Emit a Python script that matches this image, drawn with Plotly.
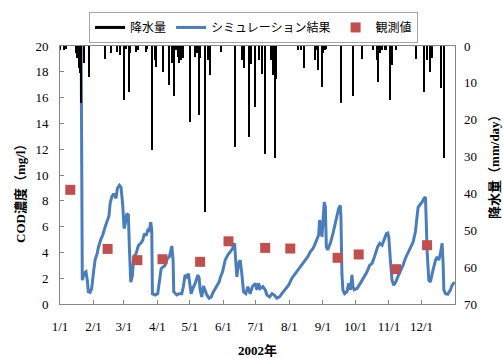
import pandas as pd
import plotly.graph_objects as go

START = pd.Timestamp("2002-01-01")

# ---- data (day offsets from 2002-01-01) ----
month_ticks = ["2002-01-01", "2002-02-01", "2002-03-01", "2002-04-01", "2002-05-01", "2002-06-01",
               "2002-07-01", "2002-08-01", "2002-09-01", "2002-10-01", "2002-11-01", "2002-12-01"]
month_labels = ["1/1", "2/1", "3/1", "4/1", "5/1", "6/1", "7/1", "8/1", "9/1", "10/1", "11/1", "12/1"]

sim_day = [19.5, 20.6, 22.5, 24, 25.3, 26.2, 27.8, 29.3, 30.8, 32.4, 34.3, 35.5, 37.9, 39.5, 41.6, 44.1,
           45.3, 46.3, 47.8, 49.6, 50.9, 51.8, 53, 54.9, 56.4, 58, 59.2, 60.8, 61.7, 63.2, 64.1, 65.4,
           66.9, 68.1, 70.3, 72.5, 74.6, 76.5, 78, 79.6, 81, 82.3, 83.9, 84.8, 85.4, 87.9, 90.3, 92.5,
           93.5, 95.6, 97.1, 99.3, 101.1, 102.4, 103.3, 104.5, 105.1, 107.9, 110, 112.5, 114, 115.6,
           117.1, 118.7, 119.9, 121.2, 122.7, 124.9, 127.4, 128.6, 129.5, 131, 132.6, 134.2, 135.7,
           137.8, 139.7, 141.8, 144.9, 147, 148.3, 150.2, 152.6, 155, 157.3, 159.4, 161.3, 162.5,
           163.4, 165, 166.5, 168, 169.6, 171.7, 173.6, 175.7, 177.9, 180.4, 181.9, 183.5, 185,
           187.5, 189.6, 191.2, 193.7, 195.9, 198, 200.4, 202.9, 205, 208.1, 211.2, 214.3, 217.4,
           220.5, 223.5, 226.6, 228.8, 231.3, 233.8, 235.9, 237.4, 239, 239.9, 241.2, 242.1, 243,
           244.2, 245.2, 246.1, 247.3, 249.8, 252.2, 254.4, 256, 257.5, 259, 259.6, 260.5, 261.4,
           263, 265.2, 266.7, 268.3, 269.8, 270.7, 271.9, 274.4, 277.5, 280.6, 283.7, 286.2, 288.4,
           290.5, 292.4, 293.6, 295.5, 297.6, 299.8, 301.6, 302.9, 303.8, 305.3, 306.8, 308.4,
           310.2, 312.1, 314.5, 317, 319.2, 321.3, 323.8, 326.3, 328.4, 329.9, 330.9, 333.1, 334.6,
           336.1, 337.7, 338.3, 339.2, 340.8, 342.3, 343.9, 345.4, 347, 348.5, 350, 351.5, 353.1,
           354, 354.7, 356.2, 358.3, 360.8, 362.3, 364.5]
sim_cod = [21, 1.85, 2.4, 2.5, 1.8, 0.95, 0.9, 1.2, 2.35, 3.4, 3.9, 4.4, 5.05, 5.35, 5.95, 6.5,
           6.85, 7.8, 8.3, 8.55, 8.4, 8.2, 8.95, 9.2, 9.05, 7.65, 5.85, 6.4, 7.0, 6.9, 4.4, 1.7,
           2.2, 3.65, 3.9, 4.55, 4.7, 4.95, 5.45, 5.3, 5.7, 5.6, 6.35, 5.7, 0.8, 0.7, 0.8, 2.25,
           2.75, 2.9, 3.0, 3.55, 3.65, 4.15, 4.5, 3.4, 0.95, 0.7, 0.8, 0.8, 1.35, 2.25,
           2.1, 2.35, 1.6, 0.8, 1.2, 1.6, 2.25, 2.0, 1.1, 0.55, 1.4, 0.95, 0.7,
           0.45, 0.55, 0.95, 1.45, 1.7, 2.1, 2.5, 3.4, 3.8, 4.05, 4.3, 4.7, 3.4,
           2.1, 3.15, 3.4, 2.35, 0.95, 0.8, 1.35, 0.8, 1.35, 1.6, 1.1, 1.6, 1.2,
           1.35, 1.1, 0.7, 0.55, 0.8, 0.7, 0.45, 0.55, 0.8, 1.1, 1.45, 2.0, 2.35,
           2.75, 3.0, 3.4, 3.65, 4.05, 4.3, 4.7, 5.05, 5.35, 6.5, 5.95, 5.2, 6.75,
           7.9, 7.5, 4.45, 4.2, 4.7, 5.45, 6.25, 6.85, 7.4, 7.65, 6.75, 2.35, 1.1,
           0.8, 0.95, 1.6, 1.1, 2.25, 1.35, 1.1, 1.2, 1.6, 2.0, 2.5, 3.0, 3.15,
           3.65, 4.15, 4.45, 4.7, 4.55, 5.05, 5.45, 5.5, 5.2, 3.4, 1.85, 1.45,
           1.7, 2.1, 2.5, 3.0, 3.55, 3.9, 4.3, 4.8, 5.6, 6.75, 7.5, 7.75, 7.9,
           8.15, 8.3, 6.75, 4.15, 1.85, 1.7, 2.35, 2.9, 3.4, 3.65, 3.4, 3.9, 4.7,
           3.15, 1.1, 0.8, 0.75, 1.1, 1.45, 1.7]

obs_day = [9.5, 44, 71.5, 94.7, 129.5, 155.7, 189.6, 212.8, 256.5, 276, 310.5, 339.2]
obs_cod = [8.85, 4.27, 3.4, 3.47, 3.27, 4.86, 4.35, 4.3, 3.58, 3.84, 2.7, 4.56]

rain_day = [0, 4, 6, 15, 16, 18, 19, 20, 22, 27, 42, 47, 53, 56, 59, 61, 64, 65, 70, 72, 80, 81,
            85, 88, 89, 95, 101, 104, 106, 107, 109, 110, 112, 114, 120, 125, 127, 129, 130, 134,
            137, 139, 149, 162, 168, 170, 175, 177, 180, 184, 187, 190, 195, 197, 199, 200, 220,
            223, 226, 236, 237, 239, 242, 243, 245, 246, 260, 271, 279, 289, 293, 294, 296, 298,
            301, 305, 307, 311, 329, 337, 339, 342, 344, 352, 355]
rain_mm = [1.0, 1.0, 0.8, 2.0, 3.3, 6.0, 7.4, 15.5, 4.5, 8.3, 3.5, 1.9, 1.5, 2.5, 14.6, 0.8, 12.6,
           2.0, 1.5, 1.0, 1.5, 0.8, 28.2, 3.8, 5.6, 7.0, 10.6, 4.5, 13.7, 1.0, 2.9, 4.7, 3.8, 3.3,
           20.5, 2.9, 2.0, 18.7, 3.3, 45.0, 3.8, 7.9, 1.5, 27.3, 3.8, 6.0, 24.6, 5.0, 16.5, 3.8,
           7.6, 29.4, 3.8, 8.0, 30.5, 9.0, 1.0, 1.0, 6.0, 3.8, 1.0, 6.5, 11.0, 2.0, 1.0, 0.8, 15.5,
           13.7, 3.5, 1.0, 3.8, 9.7, 2.0, 1.0, 1.0, 14.6, 5.1, 1.0, 3.5, 12.6, 3.8, 7.0, 3.3, 11.5,
           30.3]


def to_dates(days):
    return [START + pd.Timedelta(days=float(d)) for d in days]


SERIF = "Liberation Serif, Times New Roman, Noto Sans CJK JP, serif"
LEGEND_FONT = "Noto Sans CJK JP, sans-serif"
AXIS_GRAY = "#868686"

fig = go.Figure()

fig.add_trace(go.Scatter(
    x=to_dates(sim_day), y=sim_cod, mode="lines", name="シミュレーション結果",
    line=dict(color="#4A7EBB", width=3), legendrank=2, cliponaxis=True))

fig.add_trace(go.Scatter(
    x=to_dates(obs_day), y=obs_cod, mode="markers", name="観測値",
    marker=dict(symbol="square", size=10, color="#C0504D"), legendrank=3))

fig.add_trace(go.Bar(
    x=to_dates(rain_day), y=rain_mm, yaxis="y2", name="降水量", showlegend=False,
    marker=dict(color="#000000", line=dict(width=0)), width=86400000 * 1.4))

# legend entry for the rainfall series drawn as a line (as in the original)
fig.add_trace(go.Scatter(
    x=[None], y=[None], mode="lines", name="降水量",
    line=dict(color="#000000", width=3), legendrank=1))

fig.update_layout(
    width=503, height=358,
    margin=dict(l=60, r=48, t=46, b=54, autoexpand=False),
    paper_bgcolor="white", plot_bgcolor="white",
    showlegend=True,
    bargap=0,
    legend=dict(orientation="h", x=0.49, xanchor="center", y=1.132, yanchor="top",
                bordercolor="#A6A6A6", borderwidth=1, bgcolor="white",
                font=dict(family=LEGEND_FONT, size=12, color="#000000"),
                itemwidth=30, traceorder="normal"),
    xaxis=dict(type="date", range=["2002-01-01", "2003-01-01"],
               tickvals=month_ticks, ticktext=month_labels, automargin=False,
               ticks="inside", ticklen=4, tickcolor=AXIS_GRAY,
               showline=True, linecolor=AXIS_GRAY, linewidth=1, mirror=True,
               showgrid=False, zeroline=False, ticklabelstandoff=10,
               tickfont=dict(family=SERIF, size=13, color="#000000")),
    yaxis=dict(range=[0, 20], dtick=2, ticks="inside", ticklen=4, tickcolor=AXIS_GRAY,
               showline=True, linecolor=AXIS_GRAY, linewidth=1, mirror=True, automargin=False,
               showgrid=False, zeroline=False, ticklabelstandoff=8,
               tickfont=dict(family=SERIF, size=13, color="#000000")),
    yaxis2=dict(overlaying="y", side="right", range=[70, 0], dtick=10, ticks="",
                showline=False, showgrid=False, zeroline=False, ticklabelstandoff=8,
                automargin=False,
                tickfont=dict(family=SERIF, size=13, color="#000000")),
    annotations=[
        dict(text="<b>COD濃度（mg/l）</b>", xref="paper", yref="paper", x=-0.1, y=0.44,
             xanchor="center", yanchor="middle", textangle=-90, showarrow=False,
             font=dict(family=SERIF, size=13, color="#000000")),
        dict(text="<b>降水量（mm/day）</b>", xref="paper", yref="paper", x=1.1, y=0.545,
             xanchor="center", yanchor="middle", textangle=-90, showarrow=False,
             font=dict(family=SERIF, size=13, color="#000000")),
        dict(text="<b>2002年</b>", xref="paper", yref="paper", x=0.499, y=-0.18,
             xanchor="center", yanchor="middle", showarrow=False,
             font=dict(family=SERIF, size=13, color="#000000")),
    ],
)

fig.write_html("out.html", config={"displayModeBar": False},
               post_script="document.body.style.margin='0';")
